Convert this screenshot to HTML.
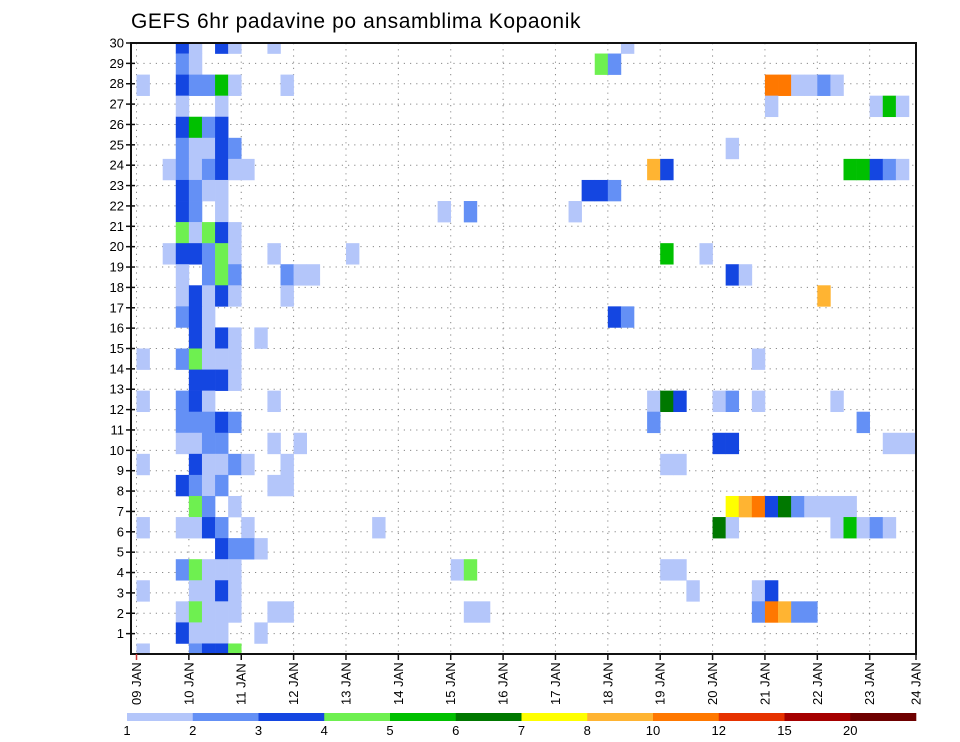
<!DOCTYPE html>
<html><head><meta charset="utf-8"><title>GEFS 6hr padavine po ansamblima Kopaonik</title>
<style>html,body{margin:0;padding:0;background:#fff;}svg{display:block;font-family:"Liberation Sans",sans-serif;}</style>
</head><body>
<svg id="chart" width="960" height="742" viewBox="0 0 960 742" xmlns="http://www.w3.org/2000/svg">
<defs><clipPath id="plotclip"><rect x="131" y="43" width="785" height="611"/></clipPath></defs>
<text x="131" y="28" font-size="21" letter-spacing="0.6" fill="#000">GEFS 6hr padavine po ansamblima Kopaonik</text>
<g id="grid"></g>
<g id="cells" clip-path="url(#plotclip)"></g>
<g id="axes"></g>
<g id="legend"></g>
</svg>
<script>
const dayLabels = ["09 JAN","10 JAN","11 JAN","12 JAN","13 JAN","14 JAN","15 JAN","16 JAN","17 JAN","18 JAN","19 JAN","20 JAN","21 JAN","22 JAN","23 JAN","24 JAN"];
const memberTicks = [1,2,3,4,5,6,7,8,9,10,11,12,13,14,15,16,17,18,19,20,21,22,23,24,25,26,27,28,29,30];
const legendLabels = ["1","2","3","4","5","6","7","8","10","12","15","20"];
const levelColors = ["#b4c6fa","#6490f5","#1446e1","#6ef050","#00c000","#007800","#ffff00","#ffb432","#ff7800","#e63200","#a50000","#6e0000"];
// [member, 6h step from 09 JAN 00Z, color level 1..12]
const precipCells = [
[30,3,3],[30,4,1],[30,6,3],[30,7,1],[30,10,1],[30,37,1],
[29,3,2],[29,4,1],[29,35,4],[29,36,2],
[28,0,1],[28,3,3],[28,4,2],[28,5,2],[28,6,5],[28,7,1],[28,11,1],[28,48,9],[28,49,9],[28,50,1],[28,51,1],[28,52,2],[28,53,1],
[27,3,1],[27,6,1],[27,48,1],[27,56,1],[27,57,5],[27,58,1],
[26,3,3],[26,4,5],[26,5,2],[26,6,3],
[25,3,2],[25,4,1],[25,5,1],[25,6,3],[25,7,2],[25,45,1],
[24,2,1],[24,3,2],[24,4,1],[24,5,2],[24,6,3],[24,7,1],[24,8,1],[24,39,8],[24,40,3],[24,54,5],[24,55,5],[24,56,3],[24,57,2],[24,58,1],
[23,3,3],[23,4,2],[23,5,1],[23,6,1],[23,34,3],[23,35,3],[23,36,2],
[22,3,3],[22,4,2],[22,6,1],[22,23,1],[22,25,2],[22,33,1],
[21,3,4],[21,4,1],[21,5,4],[21,6,3],[21,7,1],
[20,2,1],[20,3,3],[20,4,3],[20,5,2],[20,6,4],[20,7,1],[20,10,1],[20,16,1],[20,40,5],[20,43,1],
[19,3,1],[19,5,2],[19,6,4],[19,7,2],[19,11,2],[19,12,1],[19,13,1],[19,45,3],[19,46,1],
[18,3,1],[18,4,3],[18,5,1],[18,6,3],[18,7,1],[18,11,1],[18,52,8],
[17,3,2],[17,4,3],[17,5,1],[17,36,3],[17,37,2],
[16,4,3],[16,5,1],[16,6,3],[16,7,1],[16,9,1],
[15,0,1],[15,3,2],[15,4,4],[15,5,1],[15,6,1],[15,7,1],[15,47,1],
[14,4,3],[14,5,3],[14,6,3],[14,7,1],
[13,0,1],[13,3,2],[13,4,3],[13,5,1],[13,10,1],[13,39,1],[13,40,6],[13,41,3],[13,44,1],[13,45,2],[13,47,1],[13,53,1],
[12,3,2],[12,4,2],[12,5,2],[12,6,3],[12,7,2],[12,39,2],[12,55,2],
[11,3,1],[11,4,1],[11,5,2],[11,6,2],[11,10,1],[11,12,1],[11,44,3],[11,45,3],[11,57,1],[11,58,1],[11,59,1],
[10,0,1],[10,4,3],[10,5,1],[10,6,1],[10,7,2],[10,8,1],[10,11,1],[10,40,1],[10,41,1],
[9,3,3],[9,4,2],[9,5,1],[9,6,2],[9,10,1],[9,11,1],
[8,4,4],[8,5,2],[8,7,1],[8,45,7],[8,46,8],[8,47,9],[8,48,3],[8,49,6],[8,50,2],[8,51,1],[8,52,1],[8,53,1],[8,54,1],
[7,0,1],[7,3,1],[7,4,1],[7,5,3],[7,6,2],[7,8,1],[7,18,1],[7,44,6],[7,45,1],[7,53,1],[7,54,5],[7,55,1],[7,56,2],[7,57,1],
[6,6,3],[6,7,2],[6,8,2],[6,9,1],
[5,3,2],[5,4,4],[5,5,1],[5,6,1],[5,7,1],[5,24,1],[5,25,4],[5,40,1],[5,41,1],
[4,0,1],[4,4,1],[4,5,1],[4,6,3],[4,7,1],[4,42,1],[4,47,1],[4,48,3],
[3,3,1],[3,4,4],[3,5,1],[3,6,1],[3,7,1],[3,10,1],[3,11,1],[3,25,1],[3,26,1],[3,47,2],[3,48,9],[3,49,8],[3,50,2],[3,51,2],
[2,3,3],[2,4,1],[2,5,1],[2,6,1],[2,9,1],
[1,0,1],[1,4,2],[1,5,3],[1,6,3],[1,7,4]
];

const NS = "http://www.w3.org/2000/svg";
const L = 131, R = 916, T = 43, B = 654;
const DAYW = 52.37;
function xDay(d){ return d >= 15 ? R : 136.5 + d * DAYW; }
function xStep(s){ return 136.5 + s * DAYW / 4; }
function yLabel(k){ return B - k * (B - T) / 30; }
function yMember(m){ return B - (m - 1) * (B - T) / 29; }
function mk(tag, attrs, parent){
  const e = document.createElementNS(NS, tag);
  for (const k in attrs) e.setAttribute(k, attrs[k]);
  parent.appendChild(e);
  return e;
}
const grid = document.getElementById("grid");
const cellsG = document.getElementById("cells");
const axes = document.getElementById("axes");
const legend = document.getElementById("legend");

// grid lines
for (let d = 0; d < 15; d++) {
  const gl = mk("line", {x1: xDay(d), x2: xDay(d), y1: T, y2: B, stroke: "#888", "stroke-width": 1, "stroke-dasharray": "1.2,5"}, grid);
  
  
}
memberTicks.forEach(function(k){
  if (k >= 30) return;
  const gl = mk("line", {x1: L, x2: R, y1: yLabel(k), y2: yLabel(k), stroke: "#888", "stroke-width": 1, "stroke-dasharray": "1.2,5"}, grid);
  
  
});

// cells
const cw = DAYW / 4, ch = (B - T) / 29;
precipCells.forEach(function(c){
  const r = mk("rect", {x: xStep(c[1]).toFixed(2), y: (yMember(c[0]) - ch / 2).toFixed(2), width: (cw + 0.3).toFixed(2), height: (ch + 0.3).toFixed(2), fill: levelColors[c[2] - 1]}, cellsG);
  
  
});

// frame
const frame = mk("rect", {x: L, y: T, width: R - L, height: B - T, fill: "none", stroke: "#111", "stroke-width": 2}, axes);



// y ticks and labels
memberTicks.forEach(function(k){
  const y = yLabel(k);
  const t = mk("line", {x1: L - 5, x2: L + 4, y1: y, y2: y, stroke: "#111", "stroke-width": 1.5}, axes);
  
  
  const tx = mk("text", {x: L - 7, y: y + 4.5, "font-size": 13, "text-anchor": "end", fill: "#000"}, axes);
  tx.textContent = String(k);
  
  
});

// x ticks and labels
dayLabels.forEach(function(lab, d){
  const x = xDay(d);
  const t = mk("line", {x1: x, x2: x, y1: B, y2: B + 6, stroke: d === 0 ? "#c33" : "#111", "stroke-width": 1.5}, axes);
  
  
  const tx = mk("text", {x: 0, y: 0, "font-size": 13, "text-anchor": "start", fill: "#000", transform: "translate(" + (x + 4.5) + ",705) rotate(-90)"}, axes);
  tx.textContent = lab;
  
  
});

// legend color bar
const lx0 = 127, lx1 = 916, segW = (lx1 - lx0) / levelColors.length;
levelColors.forEach(function(col, i){
  const r = mk("rect", {x: (lx0 + i * segW).toFixed(2), y: 713, width: (segW + 0.3).toFixed(2), height: 8, fill: col}, legend);
  
  
});
legendLabels.forEach(function(lab, i){
  const tx = mk("text", {x: (lx0 + i * segW).toFixed(2), y: 735, "font-size": 13, "text-anchor": "middle", fill: "#000"}, legend);
  tx.textContent = lab;
  
  
});
</script>
</body></html>
